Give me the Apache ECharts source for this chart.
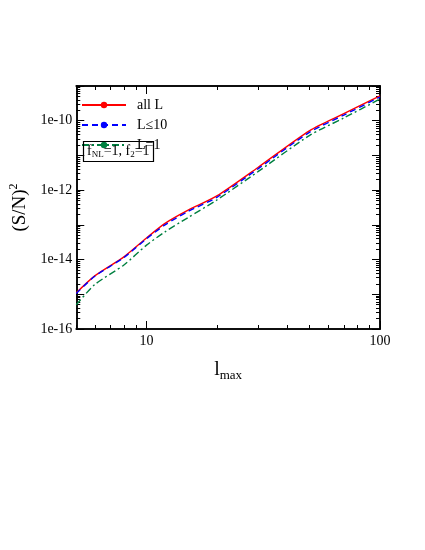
<!DOCTYPE html><html><head><meta charset="utf-8"><script src="https://cdn.jsdelivr.net/npm/echarts@6/dist/echarts.min.js"></script></head><body style="margin:0;background:#fff"><div id="c" style="width:425px;height:550px"></div><script>
const lmax = [5, 6, 8, 10, 12, 15, 20, 30, 50, 70, 100];
const allL = [1.1e-15, 3.4e-15, 1.2e-14, 4.2e-14, 1.1e-13, 2.6e-13, 6.8e-13, 4.5e-12, 5.2e-11, 1.6e-10, 5.2e-10];
const lle10 = [1.05e-15, 3.3e-15, 1.15e-14, 4.0e-14, 1.0e-13, 2.4e-13, 6.2e-13, 4.1e-12, 4.7e-11, 1.45e-10, 4.8e-10];
const l1 = [5e-16, 1.9e-15, 7.0e-15, 2.6e-14, 6.3e-14, 1.6e-13, 5.2e-13, 3.4e-12, 3.8e-11, 1.2e-10, 4.2e-10];
const xMajor = [10, 100];
const yMajorLabels = [1e-16, 1e-14, 1e-12, 1e-10];
const xMinor = [5,6,7,8,9,20,30,40,50,60,70,80,90];
const yMajor = [], yMinor = [];
for (let e = -16; e <= -9; e++) { yMajor.push(Math.pow(10, e)); if (e < -9) for (let k = 2; k <= 9; k++) yMinor.push(k * Math.pow(10, e)); }
const F = 'Liberation Serif';
const line = {show: true, lineStyle: {color: '#000', width: 1.5}};
function xa(pos, ticks, len, labels) {
  const o = {type: 'log', min: 5, max: 100, position: pos, axisLine: line, splitLine: {show: false},
    axisTick: {show: true, inside: true, length: len, customValues: ticks, lineStyle: {color: '#000'}},
    axisLabel: labels ? {show: true, customValues: xMajor, fontFamily: F, fontSize: 14, color: '#000', margin: 5} : {show: false}};
  if (labels) Object.assign(o, {name: '{a|l}{s|max}', nameLocation: 'middle', nameGap: 28,
    nameTextStyle: {rich: {a: {fontFamily: F, fontSize: 20, color: '#000'}, s: {fontFamily: F, fontSize: 13, color: '#000', padding: [12, 0, 0, 0]}}}});
  return o;
}
function ya(pos, ticks, len, labels) {
  const o = {type: 'log', min: 1e-16, max: 1e-9, position: pos, axisLine: line, splitLine: {show: false},
    axisTick: {show: true, inside: true, length: len, customValues: ticks, lineStyle: {color: '#000'}},
    axisLabel: labels ? {show: true, customValues: yMajorLabels, fontFamily: F, fontSize: 14, color: '#000', margin: 4,
      formatter: v => '1e' + Math.round(Math.log10(v))} : {show: false}};
  if (labels) Object.assign(o, {name: '{a|(S/N)}{s|2}', nameLocation: 'middle', nameRotate: 90, nameGap: 42,
    nameTextStyle: {rich: {a: {fontFamily: F, fontSize: 19, color: '#000'}, s: {fontFamily: F, fontSize: 12, color: '#000', padding: [0, 0, 12, 0]}}}});
  return o;
}
const chart = echarts.init(document.getElementById('c'));
chart.setOption({
  animation: false,
  grid: {left: 69, right: 45, top: 86, bottom: 221},
  xAxis: [xa('bottom', xMajor, 8, true), xa('bottom', xMinor, 4, false), xa('top', xMajor, 8, false), xa('top', xMinor, 4, false)],
  yAxis: [ya('left', yMajor, 8, true), ya('left', yMinor, 4, false), ya('right', yMajor, 8, false), ya('right', yMinor, 4, false)],
  legend: {left: 76, top: 93, orient: 'vertical', itemWidth: 44, itemHeight: 8, itemGap: 6,
    textStyle: {fontFamily: F, fontSize: 14, color: '#000', padding: [0,0,0,6]}},
  title: {text: '{a|f}{s|NL}{a|=1, f}{s|2}{a|=1}', left: 83, top: 141, borderColor: '#000', borderWidth: 1.2, padding: [3, 4, 3, 4],
    textStyle: {fontWeight: 'normal', rich: {a: {fontFamily: F, fontSize: 14, color: '#000'}, s: {fontFamily: F, fontSize: 9, color: '#000', padding: [6,0,0,0]}}}},
  series: [
    {name: 'all L', type: 'line', smooth: 0.25, symbol: 'none', data: lmax.map((x, i) => [x, allL[i]]), lineStyle: {color: '#ff0000', width: 1.4}, itemStyle: {color: '#ff0000'}, z: 3},
    {name: 'L≤10', type: 'line', smooth: 0.25, symbol: 'none', data: lmax.map((x, i) => [x, lle10[i]]), lineStyle: {color: '#0000ff', width: 1.4, type: [6, 4]}, itemStyle: {color: '#0000ff'}, z: 4},
    {name: 'L=1', type: 'line', smooth: 0.25, symbol: 'none', data: lmax.map((x, i) => [x, l1[i]]), lineStyle: {color: '#008040', width: 1.4, type: [7, 3, 2, 3]}, itemStyle: {color: '#008040'}},
  ]
});
</script></body></html>
